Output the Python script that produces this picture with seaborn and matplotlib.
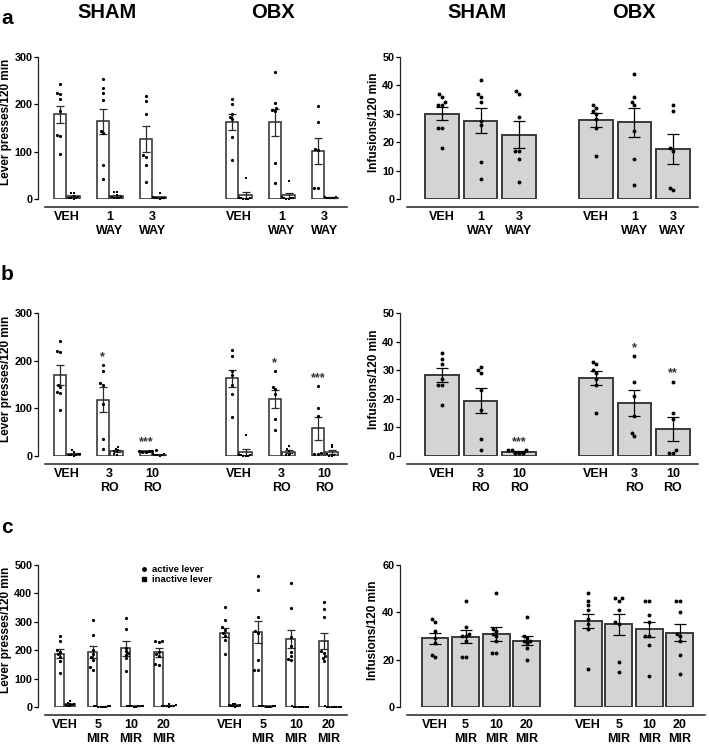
import numpy as np
import pandas as pd
import matplotlib
matplotlib.use("Agg")
import matplotlib.pyplot as plt
import seaborn as sns
from matplotlib.lines import Line2D

# ---------------- DATA ----------------
way_labels = ["VEH", "1\nWAY", "3\nWAY"]
ro_labels = ["VEH", "3\nRO", "10\nRO"]
mir_labels = ["VEH", "5\nMIR", "10\nMIR", "20\nMIR"]

# Panel a, lever presses (SHAM then OBX)
a_lev_mean = [179, 164, 127, 163, 162, 101]
a_lev_sem = [18, 27, 27, 17, 29, 28]
a_lev_active = [
    [242, 225, 222, 212, 185, 135, 133, 95],
    [254, 234, 223, 210, 144, 139, 72, 42],
    [218, 208, 180, 93, 89, 72, 35],
    [211, 201, 179, 174, 169, 132, 82],
    [268, 202, 192, 189, 186, 77, 33],
    [196, 163, 105, 103, 24, 24],
]
a_lev_inactive = [
    [12, 12, 6, 5, 3, 2, 2, 1],
    [15, 14, 8, 5, 4, 3, 2, 2],
    [12, 4, 3, 3, 2, 2, 1],
    [44, 3, 2, 2, 1, 1, 1],
    [39, 5, 3, 2, 2, 1, 1],
    [5, 4, 3, 3, 2, 2],
]
# Panel a, infusions
a_inf_mean = [30.1, 27.6, 22.7, 27.8, 27.0, 17.6]
a_inf_sem = [2.4, 4.3, 4.6, 2.4, 5.2, 5.2]
a_inf_pts = [
    [37, 36, 34, 33, 33, 25, 25, 18],
    [42, 37, 36, 34, 27.5, 26, 13, 7],
    [38, 37, 29, 17, 17, 14, 6],
    [33, 32, 31, 30, 28, 25, 15],
    [44, 36, 34, 33, 24, 14, 5],
    [33, 31, 18, 17, 4, 3],
]

# Panel b, lever presses
b_lev_mean = [169, 118, 10, 163, 119, 58]
b_lev_sem = [21, 26, 1.5, 18, 19, 24]
b_lev_active = [
    [242, 220, 218, 150, 145, 135, 133, 96],
    [191, 179, 154, 150, 110, 36, 14],
    [12, 11, 10, 10, 9, 8],
    [222, 210, 178, 170, 149, 131, 82],
    [178, 145, 140, 131, 77, 54],
    [147, 100, 84, 6, 5, 4],
]
b_lev_inactive = [
    [12, 8, 5, 4, 3, 2, 2, 1],
    [18, 15, 12, 10, 8, 5, 3],
    [5, 4, 3, 2, 2, 1],
    [44, 3, 2, 2, 1, 1, 1],
    [22, 14, 10, 5, 3, 2],
    [24, 18, 4, 2, 1, 1],
]
b_lev_stars = ["", "*", "***", "", "*", "***"]
# Panel b, infusions
b_inf_mean = [28.2, 19.4, 1.4, 27.3, 18.5, 9.6]
b_inf_sem = [2.4, 4.5, 0.3, 2.4, 4.5, 4.2]
b_inf_pts = [
    [36, 34, 32, 27, 25, 25, 18],
    [31, 30, 29, 23, 16, 6, 2],
    [2, 2, 2, 1, 1, 1],
    [33, 32, 30, 29, 27, 25, 15],
    [35, 26, 21, 14, 8, 7],
    [26, 15, 13, 2, 1, 1],
]
b_inf_stars = ["", "", "***", "", "*", "**"]

# Panel c, lever presses
c_lev_mean = [188, 193, 206, 192, 262, 264, 240, 233]
c_lev_sem = [16, 22, 27, 16, 15, 39, 31, 28]
c_lev_active = [
    [250, 232, 200, 195, 185, 175, 162, 121],
    [306, 254, 200, 185, 175, 165, 140, 132],
    [313, 275, 208, 196, 190, 184, 172, 128],
    [234, 232, 230, 195, 188, 180, 150, 147],
    [353, 308, 280, 272, 260, 250, 235, 188],
    [460, 411, 318, 268, 262, 165, 130, 130],
    [435, 350, 245, 215, 195, 180, 170, 165],
    [368, 345, 317, 196, 190, 180, 172, 161],
]
c_lev_inactive = [
    [20, 15, 12, 10, 8, 6, 5, 4],
    [3, 2, 2, 2, 1, 1, 1, 1],
    [4, 3, 3, 2, 2, 2, 1, 1],
    [10, 8, 5, 4, 3, 2, 2, 1],
    [12, 10, 8, 6, 4, 3, 2, 1],
    [4, 3, 2, 2, 2, 1, 1, 1],
    [2, 1, 1, 1, 1, 1, 1, 1],
    [2, 1, 1, 1, 1, 1, 1, 1],
]
# Panel c, infusions
c_inf_mean = [29.0, 29.7, 30.9, 28.0, 36.4, 35.0, 32.8, 31.4]
c_inf_sem = [2.3, 2.8, 3.0, 2.0, 3.1, 4.5, 3.2, 3.5]
c_inf_pts = [
    [37, 36, 32, 29, 27, 22, 21],
    [45, 34, 31, 30, 30, 28, 21, 21],
    [48, 33, 32, 31, 30, 28, 23, 23],
    [38, 30, 29, 28, 28, 27, 25, 20],
    [48, 45, 43, 41, 37, 35, 33, 16],
    [46, 46, 45, 41, 36, 35, 19, 15],
    [45, 45, 39, 36, 30, 30, 26, 13],
    [45, 45, 40, 31, 30, 28, 22, 14],
]

# ---------------- STYLE ----------------
sns.set_theme(style="ticks")
plt.rcParams["font.family"] = ["Liberation Sans", "DejaVu Sans"]
plt.rcParams.update({
    "font.weight": "bold", "axes.labelweight": "bold",
    "text.color": "black", "axes.labelcolor": "black",
    "xtick.color": "black", "ytick.color": "black",
    "axes.edgecolor": "#222222", "axes.linewidth": 0.9,
    "xtick.labelsize": 9, "ytick.labelsize": 7.8,
})

W, H = 709, 745
fig = plt.figure(figsize=(W / 100, H / 100), dpi=100)


def add_ax(x0, y0, x1, y1):
    return fig.add_axes([x0 / W, 1 - y1 / H, (x1 - x0) / W, (y1 - y0) / H])


LEV_EDGE = "#2b2b2b"
INF_EDGE = "#3a3a3a"
INF_FILL = "#d4d4d4"


def positions(n):
    return list(range(n)) + [n + 1 + i for i in range(n)]


def style(ax, pos, labels, ymax, ystep, xlim, ylabel, lab_x):
    ax.set_xlim(*xlim)
    ax.set_ylim(0, ymax)
    ax.set_yticks(np.arange(0, ymax + 1, ystep))
    ax.set_xticks(pos)
    ax.set_xticklabels(labels * 2, linespacing=1.1)
    ax.tick_params(axis="x", length=0, pad=3, labelsize=9)
    ax.tick_params(axis="y", length=3, width=0.9, pad=1, labelsize=7.8)
    for s in ["top", "right"]:
        ax.spines[s].set_visible(False)
    ax.spines["left"].set_position(("outward", 5))
    ax.spines["bottom"].set_position(("outward", 5.5))
    ax.spines["bottom"].set_linewidth(1.1)
    ax.set_xlabel("")
    ax.set_ylabel(ylabel, fontsize=8.5, fontweight="bold")
    ax.yaxis.set_label_coords(lab_x, 0.54)


def lever_panel(ax, labels, mean_act, sem_act, pts_act, pts_in, ymax, ystep, xlim, stars=None):
    pos = positions(len(labels))
    mean_in = [float(np.mean(p)) for p in pts_in]
    sem_in = [float(np.std(p, ddof=1) / np.sqrt(len(p))) for p in pts_in]
    bars = pd.DataFrame({
        "pos": pos * 2,
        "lever": ["active"] * len(pos) + ["inactive"] * len(pos),
        "val": list(mean_act) + mean_in,
    })
    sns.barplot(data=bars, x="pos", y="val", hue="lever", hue_order=["active", "inactive"],
                native_scale=True, dodge=True, width=0.64, gap=0.1,
                palette={"active": "white", "inactive": "white"}, saturation=1,
                edgecolor=LEV_EDGE, linewidth=1.1, errorbar=None, legend=False, ax=ax)
    off = 0.16
    p = np.array(pos, dtype=float)
    ax.errorbar(p - off, mean_act, yerr=sem_act, fmt="none", ecolor=LEV_EDGE,
                elinewidth=0.9, capsize=2.6, capthick=0.9, zorder=3)
    ax.errorbar(p + off, mean_in, yerr=sem_in, fmt="none", ecolor=LEV_EDGE,
                elinewidth=0.9, capsize=2.6, capthick=0.9, zorder=3)
    act_df = pd.DataFrame([(x - off, v) for x, vals in zip(pos, pts_act) for v in vals],
                          columns=["x", "val"])
    in_df = pd.DataFrame([(x + off, v) for x, vals in zip(pos, pts_in) for v in vals],
                         columns=["x", "val"])
    sns.swarmplot(data=act_df, x="x", y="val", native_scale=True, color="black",
                  size=2.3, marker="o", linewidth=0, ax=ax, zorder=4, warn_thresh=1)
    sns.swarmplot(data=in_df, x="x", y="val", native_scale=True, color="black",
                  size=1.6, marker="s", linewidth=0, ax=ax, zorder=4, warn_thresh=1)
    if stars:
        for x, s, vals in zip(pos, stars, pts_act):
            if s:
                ax.text(x - off, max(vals) + ymax * 0.035, s, ha="center", va="baseline",
                        fontsize=9, color="#333333", fontweight="bold")
    style(ax, pos, labels, ymax, ystep, xlim, "Lever presses/120 min", -0.108)


def infusion_panel(ax, labels, means, sems, pts, ymax, ystep, xlim, stars=None):
    pos = positions(len(labels))
    bars = pd.DataFrame({"pos": pos, "val": means})
    sns.barplot(data=bars, x="pos", y="val", native_scale=True, width=0.88,
                color=INF_FILL, saturation=1, edgecolor=INF_EDGE, linewidth=1.4,
                errorbar=None, ax=ax)
    ax.errorbar(pos, means, yerr=sems, fmt="none", ecolor="black",
                elinewidth=0.9, capsize=4.2, capthick=0.9, zorder=3)
    df = pd.DataFrame([(x, v) for x, vals in zip(pos, pts) for v in vals], columns=["x", "val"])
    sns.swarmplot(data=df, x="x", y="val", native_scale=True, color="black",
                  size=2.8, linewidth=0, ax=ax, zorder=4, warn_thresh=1)
    if stars:
        for x, s, vals in zip(pos, stars, pts):
            if s:
                ax.text(x, max(vals) + ymax * 0.036, s, ha="center", va="baseline",
                        fontsize=9, color="#333333", fontweight="bold")
    style(ax, pos, labels, ymax, ystep, xlim, "Infusions/120 min", -0.093)


# ---------------- PANELS ----------------
ax = add_ax(45, 57, 347, 199)
lever_panel(ax, way_labels, a_lev_mean, a_lev_sem, a_lev_active, a_lev_inactive,
            300, 100, (-0.505, 6.52))
ax = add_ax(407, 57, 698, 199)
infusion_panel(ax, way_labels, a_inf_mean, a_inf_sem, a_inf_pts, 50, 10, (-0.91, 6.65))

ax = add_ax(45, 313, 347, 456)
lever_panel(ax, ro_labels, b_lev_mean, b_lev_sem, b_lev_active, b_lev_inactive,
            300, 100, (-0.505, 6.52), stars=b_lev_stars)
ax = add_ax(407, 313, 698, 456)
infusion_panel(ax, ro_labels, b_inf_mean, b_inf_sem, b_inf_pts, 50, 10, (-0.91, 6.65),
               stars=b_inf_stars)

ax_c = add_ax(45, 565, 347, 707)
lever_panel(ax_c, mir_labels, c_lev_mean, c_lev_sem, c_lev_active, c_lev_inactive,
            500, 100, (-0.6, 8.55))
handles = [
    Line2D([], [], marker="o", ls="", color="black", markersize=2.5, label="active lever"),
    Line2D([], [], marker="s", ls="", color="black", markersize=2.5, label="inactive lever"),
]
ax_c.legend(handles=handles, loc="upper left", bbox_to_anchor=(0.315, 1.0), frameon=False,
            prop={"size": 6.8, "weight": "bold"}, handlelength=0.8, handletextpad=0.5,
            labelspacing=0.12, borderaxespad=0, borderpad=0)
ax = add_ax(407, 565, 705, 707)
infusion_panel(ax, mir_labels, c_inf_mean, c_inf_sem, c_inf_pts, 60, 20, (-0.915, 8.82))

# ---------------- HEADERS ----------------
for x, t in [(107.5, "SHAM"), (273, "OBX"), (477, "SHAM"), (634, "OBX")]:
    fig.text(x / W, 1 - 18 / H, t, ha="center", va="baseline", fontsize=14.5, fontweight="bold")
for y, t in [(24, "a"), (280, "b"), (533, "c")]:
    fig.text(1 / W, 1 - y / H, t, ha="left", va="baseline", fontsize=15, fontweight="bold")

fig.savefig("out.png", dpi=100)
